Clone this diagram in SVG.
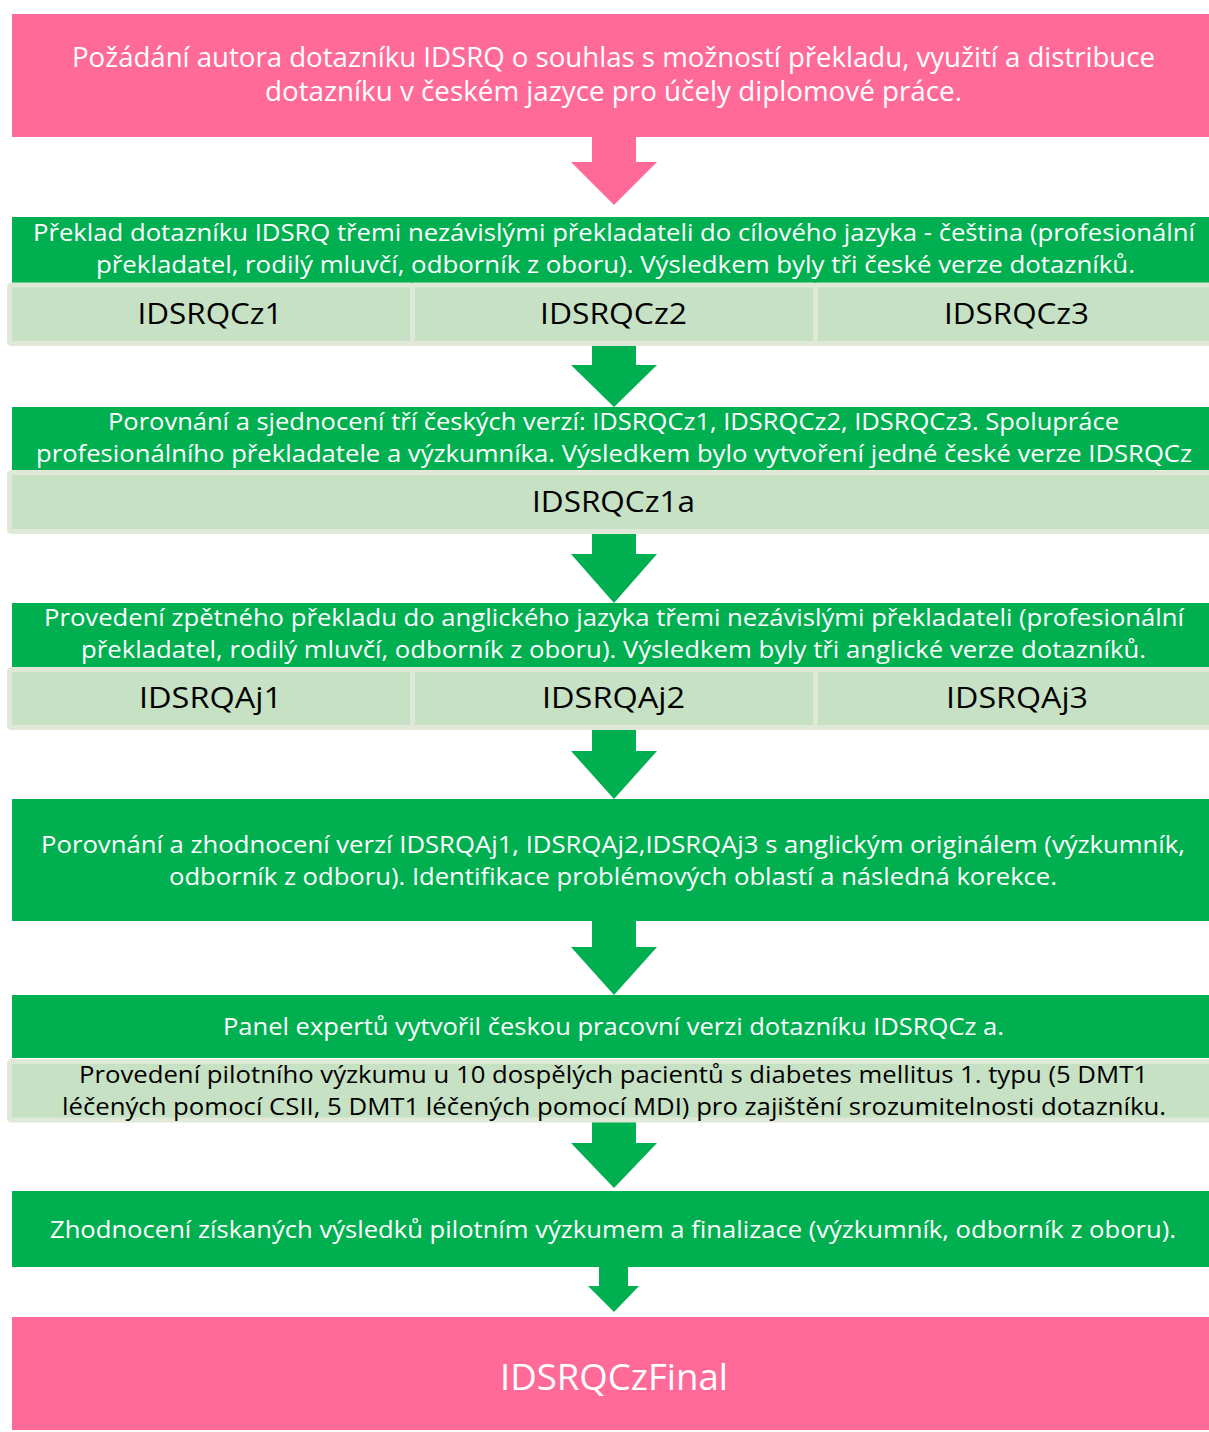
<svg xmlns="http://www.w3.org/2000/svg" width="1209" height="1432" viewBox="0 0 1209 1432">
<style>
.pink{fill:#FF6A98}
.green{fill:#00B050}
.cell{fill:#C7E1C4;stroke:#E0E9D7;stroke-width:5}
.arrG{fill:#00B050}
.arrP{fill:#FF6A98}
text{font-family:"Open Sans","Noto Sans",sans-serif;text-anchor:middle}
.w{fill:#FFFFFF}
.k{fill:#000000}
.t1{font-size:27px}
.t2{font-size:24px}
.tc{font-size:30px}
.tp{font-size:23px}
.tf{font-size:37px}
</style>
<rect width="1209" height="1432" fill="#FFFFFF"/>
<g id="connectors">
<polygon class="arrP" points="592,136 636,136 636,162 657,162 614,205 571,162 592,162"/>
<polygon class="arrG" points="592,345 636,345 636,365 657,365 614,407 571,365 592,365"/>
<polygon class="arrG" points="592,533 636,533 636,554 657,554 614,603 571,554 592,554"/>
<polygon class="arrG" points="592,729 636,729 636,751 657,751 614,799 571,751 592,751"/>
<polygon class="arrG" points="592,920 636,920 636,947 657,947 614,995 571,947 592,947"/>
<polygon class="arrG" points="592,1122 636,1122 636,1143 657,1143 614,1188 571,1143 592,1143"/>
<polygon class="arrG" points="599,1266 628,1266 628,1286 639,1286 614,1312 588,1286 599,1286"/>
</g>
<g id="node-request">
<rect class="pink" x="12" y="14" width="1197" height="123"/>
<text class="w t1" x="613.5" y="67" textLength="1083" lengthAdjust="spacingAndGlyphs">Požádání autora dotazníku IDSRQ o souhlas s možností překladu, využití a distribuce</text>
<text class="w t1" x="613.5" y="101" textLength="697" lengthAdjust="spacingAndGlyphs">dotazníku v českém jazyce pro účely diplomové práce.</text>
</g>
<g id="node-translation">
<rect class="green" x="12" y="217" width="1197" height="66"/>
<text class="w t2" x="614" y="241" textLength="1162" lengthAdjust="spacingAndGlyphs">Překlad dotazníku IDSRQ třemi nezávislými překladateli do cílového jazyka - čeština (profesionální</text>
<text class="w t2" x="615.5" y="273" textLength="1039" lengthAdjust="spacingAndGlyphs">překladatel, rodilý mluvčí, odborník z oboru). Výsledkem byly tři české verze dotazníků.</text>
</g>
<g id="node-cz1">
<rect class="cell" x="9.5" y="285" width="403" height="58.5" rx="2"/>
<text class="k tc" x="210" y="324" textLength="145" lengthAdjust="spacingAndGlyphs">IDSRQCz1</text>
</g>
<g id="node-cz2">
<rect class="cell" x="412.5" y="285" width="403" height="58.5" rx="2"/>
<text class="k tc" x="613.5" y="324" textLength="147" lengthAdjust="spacingAndGlyphs">IDSRQCz2</text>
</g>
<g id="node-cz3">
<rect class="cell" x="815.5" y="285" width="403" height="58.5" rx="2"/>
<text class="k tc" x="1016.5" y="324" textLength="145" lengthAdjust="spacingAndGlyphs">IDSRQCz3</text>
</g>
<g id="node-unify">
<rect class="green" x="12" y="407" width="1197" height="64"/>
<text class="w t2" x="613.5" y="430" textLength="1011" lengthAdjust="spacingAndGlyphs">Porovnání a sjednocení tří českých verzí: IDSRQCz1, IDSRQCz2, IDSRQCz3. Spolupráce</text>
<text class="w t2" x="614" y="462" textLength="1156" lengthAdjust="spacingAndGlyphs">profesionálního překladatele a výzkumníka. Výsledkem bylo vytvoření jedné české verze IDSRQCz</text>
</g>
<g id="node-cz1a">
<rect class="cell" x="9.5" y="472.5" width="1210" height="59" rx="2"/>
<text class="k tc" x="613.5" y="512" textLength="163" lengthAdjust="spacingAndGlyphs">IDSRQCz1a</text>
</g>
<g id="node-backtranslation">
<rect class="green" x="12" y="603" width="1197" height="64"/>
<text class="w t2" x="614" y="626" textLength="1140" lengthAdjust="spacingAndGlyphs">Provedení zpětného překladu do anglického jazyka třemi nezávislými překladateli (profesionální</text>
<text class="w t2" x="613.5" y="658" textLength="1065" lengthAdjust="spacingAndGlyphs">překladatel, rodilý mluvčí, odborník z oboru). Výsledkem byly tři anglické verze dotazníků.</text>
</g>
<g id="node-aj1">
<rect class="cell" x="9.5" y="669.5" width="403" height="58" rx="2"/>
<text class="k tc" x="210.5" y="708" textLength="143" lengthAdjust="spacingAndGlyphs">IDSRQAj1</text>
</g>
<g id="node-aj2">
<rect class="cell" x="412.5" y="669.5" width="403" height="58" rx="2"/>
<text class="k tc" x="613.5" y="708" textLength="143" lengthAdjust="spacingAndGlyphs">IDSRQAj2</text>
</g>
<g id="node-aj3">
<rect class="cell" x="815.5" y="669.5" width="403" height="58" rx="2"/>
<text class="k tc" x="1017" y="708" textLength="142" lengthAdjust="spacingAndGlyphs">IDSRQAj3</text>
</g>
<g id="node-compare">
<rect class="green" x="12" y="799" width="1197" height="122"/>
<text class="w t2" x="613" y="853" textLength="1144" lengthAdjust="spacingAndGlyphs">Porovnání a zhodnocení verzí IDSRQAj1, IDSRQAj2,IDSRQAj3 s anglickým originálem (výzkumník,</text>
<text class="w t2" x="613" y="885" textLength="888" lengthAdjust="spacingAndGlyphs">odborník z odboru). Identifikace problémových oblastí a následná korekce.</text>
</g>
<g id="node-panel">
<rect class="green" x="12" y="995" width="1197" height="63"/>
<text class="w t2" x="613.5" y="1035" textLength="781" lengthAdjust="spacingAndGlyphs">Panel expertů vytvořil českou pracovní verzi dotazníku IDSRQCz a.</text>
</g>
<g id="node-pilot">
<rect class="cell" x="9.5" y="1061.5" width="1210" height="58.5" rx="2"/>
<text class="k tp" x="613.5" y="1083" textLength="1069" lengthAdjust="spacingAndGlyphs">Provedení pilotního výzkumu u 10 dospělých pacientů s diabetes mellitus 1. typu (5 DMT1</text>
<text class="k tp" x="614" y="1115" textLength="1104" lengthAdjust="spacingAndGlyphs">léčených pomocí CSII, 5 DMT1 léčených pomocí MDI) pro zajištění srozumitelnosti dotazníku.</text>
</g>
<g id="node-evaluation">
<rect class="green" x="12" y="1191" width="1197" height="76"/>
<text class="w t2" x="613" y="1238" textLength="1126" lengthAdjust="spacingAndGlyphs">Zhodnocení získaných výsledků pilotním výzkumem a finalizace (výzkumník, odborník z oboru).</text>
</g>
<g id="node-final">
<rect class="pink" x="12" y="1317" width="1197" height="113"/>
<text class="w tf" x="614" y="1390" textLength="228" lengthAdjust="spacingAndGlyphs">IDSRQCzFinal</text>
</g>
</svg>
